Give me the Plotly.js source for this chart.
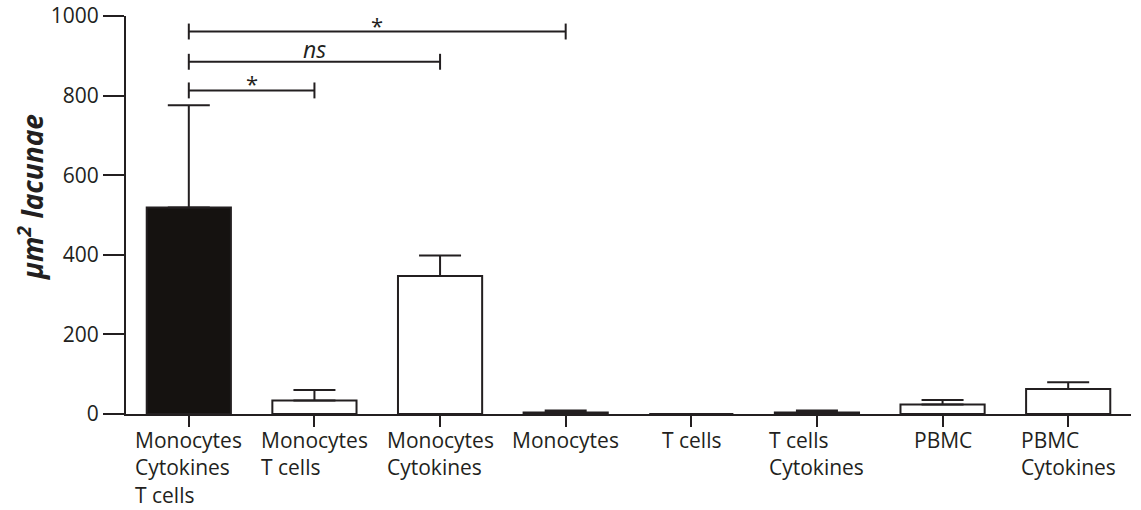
<!DOCTYPE html>
<html>
<head>
<meta charset="utf-8">
<script src="https://cdn.plot.ly/plotly-3.0.1.min.js"></script>
<style>html,body{margin:0;padding:0;background:#fff}#chart{width:1141px;height:510px}</style>
</head>
<body>
<div id="chart"></div>
<script>
// ---- data ----
const categories = [
  "Monocytes<br>Cytokines<br>T cells",
  "Monocytes<br>T cells",
  "Monocytes<br>Cytokines",
  "Monocytes",
  "T cells",
  "T cells<br>Cytokines",
  "PBMC",
  "PBMC<br>Cytokines"
];
const means = [519, 34, 347, 4, 0, 4, 24, 63];
const errUp = [257, 26, 51, 5, 0, 5, 11, 17];
const barColors = ["#151210", "#ffffff", "#ffffff", "#ffffff", "#ffffff", "#ffffff", "#ffffff", "#ffffff"];
const yTicks = [0, 200, 400, 600, 800, 1000];
const bracketFrom = [0, 0, 0];
const bracketTo = [3, 2, 1];
const bracketY = [961, 885, 813];
const bracketLabel = ["*", "<i>ns</i>", "*"];
const yTitle = "μm<sup>2</sup> lacunae";

// ---- chart ----
const ink = "#231f20";
const FONT = "Open Sans";

const trace = {
  type: "bar",
  x: categories,
  y: means,
  width: 0.67,
  marker: { color: barColors, line: { color: ink, width: 2 } },
  error_y: {
    type: "data", symmetric: false, array: errUp,
    arrayminus: means.map(() => 0),
    color: ink, thickness: 2, width: 21, visible: true
  },
  hoverinfo: "skip"
};

const shapes = [];
const annotations = [];
const tickHalf = 20;
for (let i = 0; i < bracketY.length; i++) {
  const a = bracketFrom[i], b = bracketTo[i], y = bracketY[i];
  const ln = { color: ink, width: 2 };
  shapes.push({ type: "line", xref: "x", yref: "y", x0: a, x1: b, y0: y, y1: y, line: ln });
  shapes.push({ type: "line", xref: "x", yref: "y", x0: a, x1: a, y0: y - tickHalf, y1: y + tickHalf, line: ln });
  shapes.push({ type: "line", xref: "x", yref: "y", x0: b, x1: b, y0: y - tickHalf, y1: y + tickHalf, line: ln });
  const isStar = bracketLabel[i] === "*";
  annotations.push({
    xref: "x", yref: "y", x: (a + b) / 2, y: y, yanchor: "bottom", xanchor: "center",
    text: bracketLabel[i], showarrow: false, yshift: isStar ? -10 : -5,
    font: { family: FONT, size: isStar ? 22 : 23, color: ink }
  });
}
categories.forEach((c, i) => {
  annotations.push({
    xref: "x", yref: "paper", x: i, y: 0, yanchor: "top", xanchor: "center", align: "left",
    yshift: -10, text: c, showarrow: false,
    font: { family: FONT, size: 21, color: ink }
  });
});
annotations.push({
  xref: "paper", yref: "paper", x: 0, y: 0.545, xshift: -96, xanchor: "center", yanchor: "middle",
  textangle: -90, text: "<b><i>" + yTitle + "</i></b>", showarrow: false,
  font: { family: FONT, size: 28, color: ink }
});

const layout = {
  width: 1141, height: 510,
  margin: { l: 126, r: 10, t: 16, b: 96 },
  paper_bgcolor: "#ffffff", plot_bgcolor: "#ffffff",
  showlegend: false,
  font: { family: FONT, color: ink, size: 21 },
  xaxis: {
    type: "category", range: [-0.5, 7.5], showticklabels: false,
    ticks: "outside", ticklen: 11, tickwidth: 2, tickcolor: ink,
    showline: true, linecolor: ink, linewidth: 2, showgrid: false, zeroline: false, fixedrange: true
  },
  yaxis: {
    range: [0, 1000], tickvals: yTicks, ticktext: yTicks.map(String),
    ticks: "outside", ticklen: 21, tickwidth: 2, tickcolor: ink,
    showline: true, linecolor: ink, linewidth: 2, showgrid: false, zeroline: false,
    tickfont: { family: FONT, size: 21, color: ink }, fixedrange: true
  },
  shapes: shapes,
  annotations: annotations,
  bargap: 0.33
};

Plotly.newPlot("chart", [trace], layout, { displayModeBar: false, staticPlot: true });
</script>
</body>
</html>
